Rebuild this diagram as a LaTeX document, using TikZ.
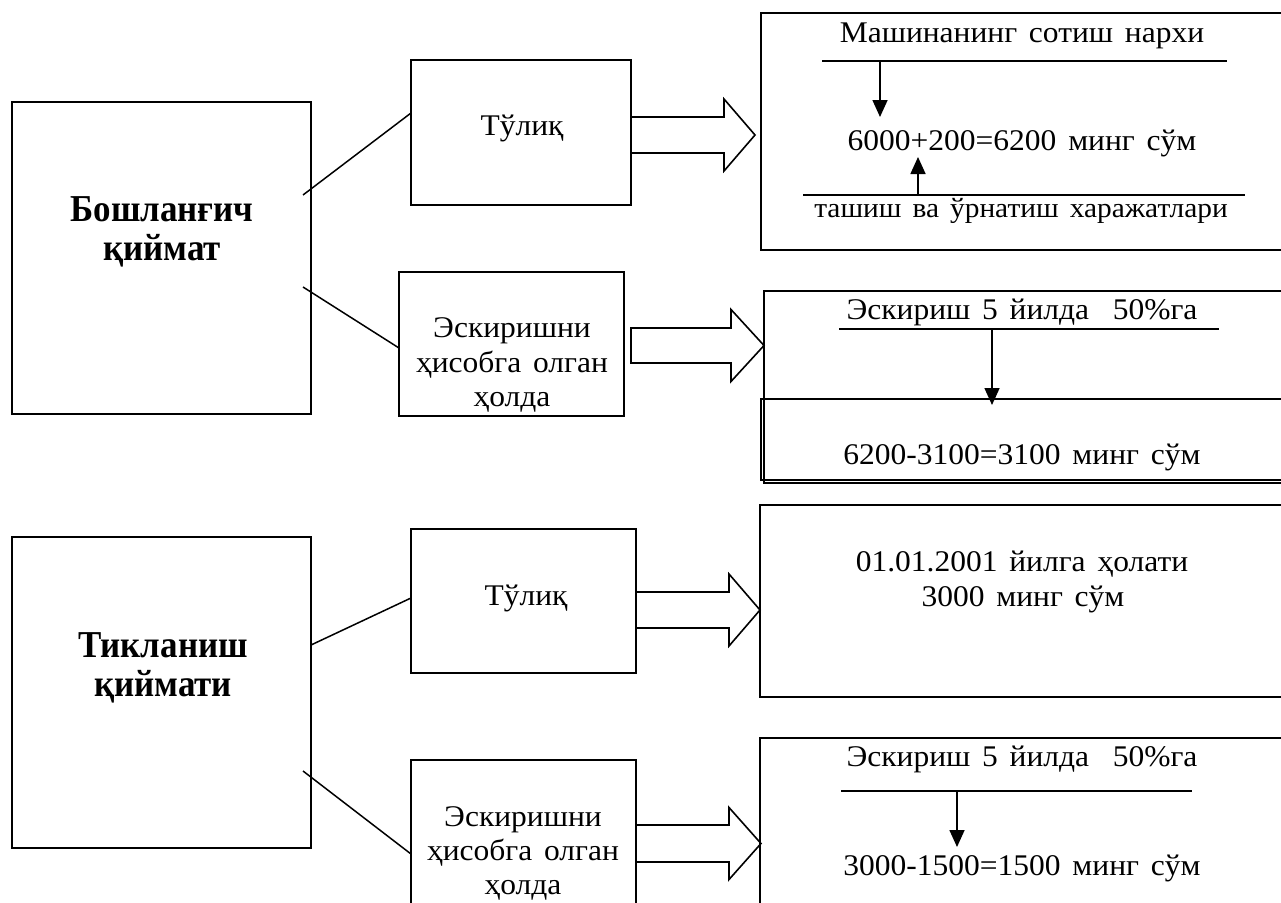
\documentclass[tikz,border=0pt]{standalone}
\usepackage{fontspec}
\setmainfont{Liberation Serif}
\newfontfamily\rtext[FakeStretch=1.05,WordSpace=1.5]{Liberation Serif}
\newfontfamily\btext[FakeStretch=0.92]{Liberation Serif}
\usetikzlibrary{arrows.meta,calc}
\tikzset{
  frame/.style={draw, line width=1.8pt, inner sep=0pt, outer sep=0pt},
  lbl/.style={font=\rtext\fontsize{30}{34}\selectfont, inner sep=0pt, anchor=base},
  lbls/.style={font=\rtext\fontsize{28}{34}\selectfont, inner sep=0pt, anchor=base},
  big/.style={font=\btext\bfseries\fontsize{38}{44}\selectfont, inner sep=0pt, anchor=base},
  conn/.style={line width=1.5pt},
  rulel/.style={line width=1.8pt},
  barr/.style={line width=1.6pt, line join=miter},
  thinarr/.style={line width=1.6pt, -{Triangle[width=15pt,length=17pt]}},
}
\newcommand\blockarr[5]{% start, shaft length, head length, shaft half, head half
  \draw[barr] (#1) -- ++(#2,0) -- ++(0,#4-#5) -- ++(#3,#5) -- ++(-#3,#5) -- ++(0,#4-#5) -- ++(-#2,0) -- cycle;}
\begin{document}
\begin{tikzpicture}[x=1pt,y=-1pt]
\useasboundingbox (0,0) rectangle (1281,902);
% ---------- boxes ----------
\node[frame, minimum width=299pt, minimum height=312pt] (A) at (161.5,258) {};
\node[frame, minimum width=220pt, minimum height=145pt] (B) at (521,132.5) {};
\node[frame, minimum width=225pt, minimum height=144pt] (C) at (511.5,344) {};
\node[frame, minimum width=539pt, minimum height=237pt] (R1) at (1030.5,131.5) {};
\node[frame, minimum width=536pt, minimum height=192pt] (R2) at (1032,387) {};
\node[frame, minimum width=539pt, minimum height=81pt] (R2b) at (1030.5,439.5) {};
\node[frame, minimum width=299pt, minimum height=311pt] (D) at (161.5,692.5) {};
\node[frame, minimum width=225pt, minimum height=144pt] (E) at (523.5,601) {};
\node[frame, minimum width=225pt, minimum height=160pt] (F) at (523.5,840) {};
\node[frame, minimum width=540pt, minimum height=192pt] (R3) at (1030,601) {};
\node[frame, minimum width=540pt, minimum height=182pt] (R4) at (1030,829) {};
% ---------- left texts ----------
\node[big] (a1) at (162,221) {Бошланғич};
\node[big] (a2) at (162,260) {қиймат};
\node[big] (d1) at (163,657) {Тикланиш};
\node[big] (d2) at (163,696) {қиймати};
\node[lbl] (b1) at (522,135) {Тўлиқ};
\node[lbl] (e1) at (526,605) {Тўлиқ};
\node[lbl] (c1) at (512,337) {Эскиришни};
\node[lbl] (c2) at (512,372) {ҳисобга олган};
\node[lbl] (c3) at (512,406) {ҳолда};
\node[lbl] (f1) at (523,826) {Эскиришни};
\node[lbl] (f2) at (523,860) {ҳисобга олган};
\node[lbl] (f3) at (523,894) {ҳолда};
% ---------- right texts ----------
\node[lbl] (t1) at (1022,42) {Машинанинг сотиш нархи};
\node[lbl] (t2) at (1022,150) {6000+200=6200 минг сўм};
\node[lbls] (t3) at (1021,217) {ташиш ва ўрнатиш харажатлари};
\node[lbl] (t4) at (1022,319) {Эскириш 5 йилда\ \ 50\%га};
\node[lbl] (t5) at (1022,464) {6200-3100=3100 минг сўм};
\node[lbl] (t6) at (1022,571) {01.01.2001 йилга ҳолати};
\node[lbl] (t7) at (1023,606) {3000 минг сўм};
\node[lbl] (t8) at (1022,766) {Эскириш 5 йилда\ \ 50\%га};
\node[lbl] (t9) at (1022,875) {3000-1500=1500 минг сўм};
% ---------- connectors from left boxes ----------
\draw[conn] ($(A.north east)+(-8,93)$) -- ($(B.north west)+(0,53)$);
\draw[conn] ($(A.north east)+(-8,185)$) -- ($(C.north west)+(0,76)$);
\draw[conn] ($(D.north east)+(0,108)$) -- ($(E.north west)+(0,69)$);
\draw[conn] ($(D.north east)+(-8,234)$) -- ($(F.north west)+(0,94)$);
% ---------- block arrows ----------
\coordinate (ba1) at ($(B.north east)+(0,57)$);
\blockarr{ba1}{93}{31}{18}{36}
\coordinate (ba2) at ($(C.north east)+(7,56)$);
\blockarr{ba2}{100}{33}{17.5}{36}
\coordinate (ba3) at ($(E.north east)+(0,63)$);
\blockarr{ba3}{93}{31}{18}{36}
\coordinate (ba4) at ($(F.north east)+(0,65)$);
\blockarr{ba4}{93}{32}{18.5}{36}
% ---------- rules and small arrows ----------
\coordinate (u1a) at (822,61);  \coordinate (u1b) at (1227,61);
\coordinate (u2a) at (803,195); \coordinate (u2b) at (1245,195);
\coordinate (u3a) at (839,329); \coordinate (u3b) at (1219,329);
\coordinate (u4a) at (841,791); \coordinate (u4b) at (1192,791);
\draw[rulel] (u1a) -- (u1b);
\draw[rulel] (u2a) -- (u2b);
\draw[rulel] (u3a) -- (u3b);
\draw[rulel] (u4a) -- (u4b);
\coordinate (s1) at (880,61);  \coordinate (e1p) at (880,117);
\coordinate (s2) at (918,195); \coordinate (e2p) at (918,157);
\coordinate (s3) at (992,329); \coordinate (e3p) at (992,405);
\coordinate (s4) at (957,791); \coordinate (e4p) at (957,847);
\draw[thinarr] (s1) -- (e1p);
\draw[thinarr] (s2) -- (e2p);
\draw[thinarr] (s3) -- (e3p);
\draw[thinarr] (s4) -- (e4p);
\end{tikzpicture}
\end{document}
